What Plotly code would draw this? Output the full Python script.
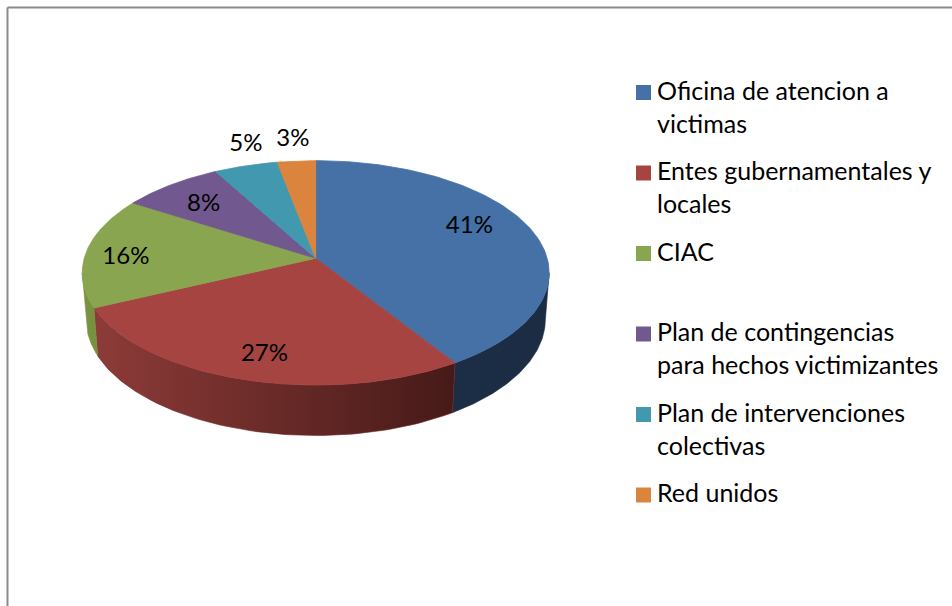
import numpy as np
import plotly.graph_objects as go

# ---------------- data ----------------
categories = [
    "Oficina de atencion a victimas",
    "Entes gubernamentales y locales",
    "CIAC",
    "Plan de contingencias para hechos victimizantes",
    "Plan de intervenciones colectivas",
    "Red unidos",
]
legend_labels = [
    "Oficina de atencion a<br>victimas",
    "Entes gubernamentales y<br>locales",
    "CIAC",
    "Plan de contingencias<br>para hechos victimizantes",
    "Plan de intervenciones<br>colectivas",
    "Red unidos",
]
values = [41, 27, 16, 8, 5, 3]
pct_labels = ["41%", "27%", "16%", "8%", "5%", "3%"]

# ---------------- style ----------------
top_colors = ["#4571A6", "#A64441", "#8AA54F", "#71588F", "#4298AF", "#DA843D"]
side_colors = [["#1C2E46", "#1B2C43"], ["#8D3B38", "#461A18"], ["#7A9443", "#75903F"],
               ["#5A4672", "#5A4672"], ["#347A8C", "#347A8C"], ["#AE6A31", "#AE6A31"]]
label_r = [0.75, 0.81, 0.82, 0.73, 1.0, 1.0]
label_dtheta = [-7.0, -2.0, -3.6, -1.8, 0.0, -1.0]
FONT = "Lato"

# 3-D projection parameters (pixel space)
CX, CY, SCALE = 315.7, 258.3, 231.5
ALPHA = np.arcsin(0.4765)
DIST = 6.78
DEPTH = 0.23


def proj(u, v, z):
    d = DIST + v * np.cos(ALPHA) - z * np.sin(ALPHA)
    X = u * DIST / d
    Y = (v * np.sin(ALPHA) + z * np.cos(ALPHA)) * DIST / d
    return CX + SCALE * X, CY - SCALE * Y


total = float(sum(values))
bounds = np.concatenate([[0.0], np.cumsum(values)]) / total * 2 * np.pi
k = np.cos(ALPHA) / DIST
vis_lo = np.arccos(-k)
vis_hi = 2 * np.pi - vis_lo

fig = go.Figure()

# side walls
for i in range(len(values)):
    a0, a1 = max(bounds[i], vis_lo), min(bounds[i + 1], vis_hi)
    if a1 <= a0:
        continue
    t = np.linspace(a0, a1, 80)
    xt, yt = proj(np.sin(t), np.cos(t), 0 * t)
    xb, yb = proj(np.sin(t), np.cos(t), 0 * t - DEPTH)
    xs = np.concatenate([xt, xb[::-1], xt[:1]])
    ys = np.concatenate([yt, yb[::-1], yt[:1]])
    c0, c1 = side_colors[i]
    fig.add_trace(go.Scatter(
        x=xs, y=ys, mode="lines", fill="toself",
        fillgradient=dict(type="horizontal", colorscale=[[0, c0], [1, c1]]),
        line=dict(width=0.6, color=c0 if i != 1 else "#6A2A28"),
        hoverinfo="skip", showlegend=False))

# top faces
for i in range(len(values)):
    t = np.linspace(bounds[i], bounds[i + 1], 120)
    xa, ya = proj(np.sin(t), np.cos(t), 0 * t)
    x0, y0 = proj(0.0, 0.0, 0.0)
    xs = np.concatenate([[x0], xa, [x0]])
    ys = np.concatenate([[y0], ya, [y0]])
    fig.add_trace(go.Scatter(
        x=xs, y=ys, mode="lines", fill="toself", fillcolor=top_colors[i],
        line=dict(width=0.8, color=top_colors[i]),
        name=categories[i], hoverinfo="name", showlegend=False))

# percentage labels
lx, ly = [], []
for i in range(len(values)):
    m = 0.5 * (bounds[i] + bounds[i + 1]) + np.radians(label_dtheta[i])
    r = label_r[i]
    px, py = proj(r * np.sin(m), r * np.cos(m), 0.0)
    if r >= 1.0:
        py -= 21
    lx.append(px)
    ly.append(py)
fig.add_trace(go.Scatter(
    x=lx, y=ly, mode="text", text=pct_labels, textposition="middle center",
    textfont=dict(family=FONT, size=24, color="#000000"),
    hoverinfo="skip", showlegend=False))

# legend (squares + wrapped labels)
shapes = []
annotations = []
for i, lab in enumerate(legend_labels):
    yc = 92.5 + 80.5 * i
    shapes.append(dict(type="rect", xref="x", yref="y", x0=636, x1=651,
                       y0=yc - 7.5, y1=yc + 7.5, fillcolor=top_colors[i],
                       line=dict(width=0)))
    annotations.append(dict(x=655, y=yc - 20, xref="x", yref="y",
                            xanchor="left", yanchor="top", align="left",
                            text=lab, showarrow=False,
                            font=dict(family=FONT, size=25, color="#000000")))

# chart border (top and left edges visible)
shapes.append(dict(type="line", xref="paper", yref="paper", x0=7.5 / 952, x1=1,
                   y0=1 - 7.5 / 606, y1=1 - 7.5 / 606, line=dict(color="#8A8A8A", width=2)))
shapes.append(dict(type="line", xref="paper", yref="paper", x0=7.5 / 952, x1=7.5 / 952,
                   y0=0, y1=1 - 7.5 / 606, line=dict(color="#8A8A8A", width=2)))

fig.update_layout(
    width=952, height=606,
    margin=dict(l=0, r=0, t=0, b=0),
    paper_bgcolor="#FFFFFF", plot_bgcolor="#FFFFFF",
    xaxis=dict(range=[0, 952], visible=False, fixedrange=True),
    yaxis=dict(range=[606, 0], visible=False, fixedrange=True),
    shapes=shapes, annotations=annotations,
    showlegend=False,
)

fig.write_html(
    "out.html",
    config={"displayModeBar": False},
    post_script="document.body.style.margin='0';document.body.style.overflow='hidden';",
)
